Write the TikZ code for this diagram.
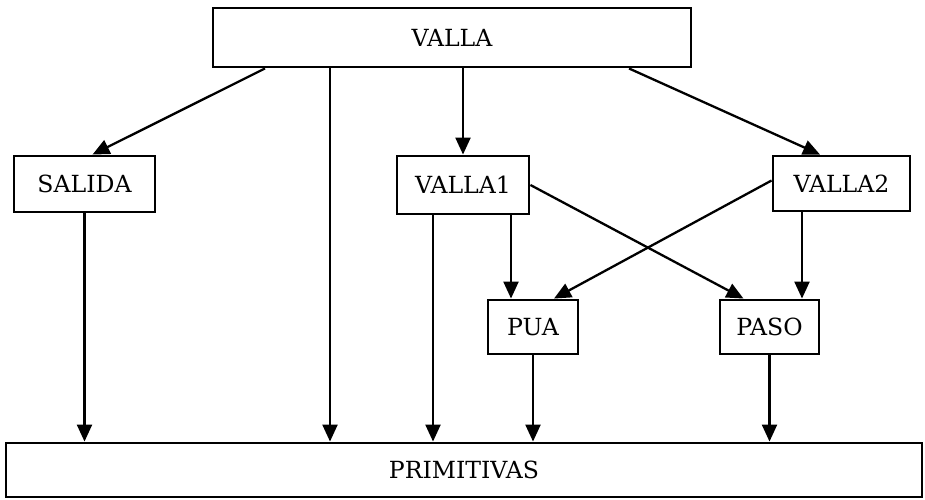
\documentclass[tikz,border=0pt]{standalone}
\usepackage{fontspec}
\setmainfont{DejaVu Serif}
\usetikzlibrary{arrows.meta}
\begin{document}
\begin{tikzpicture}[x=0.5pt,y=-0.5pt,
    caja/.style={draw, line width=1.45pt, inner sep=0pt, font=\fontsize{11.8}{14}\selectfont},
    flecha/.style={line width=1.15pt, -{Triangle[width=7.5pt,length=8.5pt]}}]
    \useasboundingbox (0,0) rectangle (925,499);
    \node [caja, minimum width=239pt, minimum height=29.5pt] (valla) at (452,37.5) {VALLA};
    \node [caja, minimum width=70.5pt, minimum height=28pt] (salida) at (84.5,184) {SALIDA};
    \node [caja, minimum width=66pt, minimum height=29pt] (valla1) at (463,185) {VALLA1};
    \node [caja, minimum width=68.5pt, minimum height=27.5pt] (valla2) at (841.5,183.5) {VALLA2};
    \node [caja, minimum width=45pt, minimum height=27pt] (pua) at (533,327) {PUA};
    \node [caja, minimum width=49.5pt, minimum height=27pt] (paso) at (769.5,327) {PASO};
    \node [caja, minimum width=458pt, minimum height=27pt] (prim) at (464,470) {PRIMITIVAS};
    \draw [flecha] ([xshift=-93.5pt]valla.south) -- ([xshift=4pt]salida.north);
    \draw [flecha] ([xshift=-61pt]valla.south) -- ([xshift=-61pt]valla.south |- prim.north);
    \draw [flecha] (valla1.north |- valla.south) -- (valla1.north);
    \draw [flecha] ([xshift=88.5pt]valla.south) -- ([xshift=-10.75pt]valla2.north);
    \draw [flecha] (salida.south) -- (salida.south |- prim.north);
    \draw [flecha] ([xshift=-15pt]valla1.south) -- ([xshift=-15pt]valla1.south |- prim.north);
    \draw [flecha] ([xshift=24pt]valla1.south) -- ([xshift=24pt]valla1.south |- pua.north);
    \draw [flecha] (valla1.east) -- ([xshift=-13pt]paso.north);
    \draw [flecha] ([yshift=1.5pt]valla2.west) -- ([xshift=10.5pt]pua.north);
    \draw [flecha] ([xshift=-19.75pt]valla2.south) -- ([xshift=-19.75pt]valla2.south |- paso.north);
    \draw [flecha] (pua.south) -- (pua.south |- prim.north);
    \draw [flecha] (paso.south) -- (paso.south |- prim.north);
\end{tikzpicture}
\end{document}
